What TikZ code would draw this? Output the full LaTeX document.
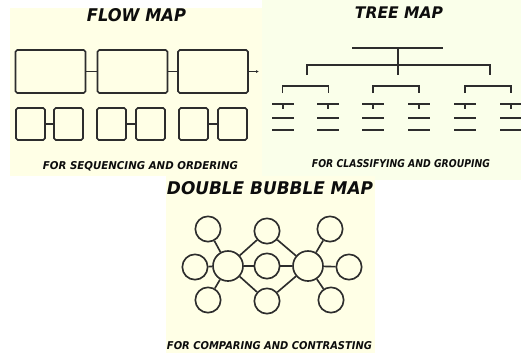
\documentclass[tikz,border=0pt]{standalone}
\usepackage{graphicx}
\usepackage{fontspec}
\setsansfont{DejaVu Sans}
\usepackage{tikz}
\usetikzlibrary{arrows.meta}
\definecolor{panelcream}{RGB}{255,255,230}
\definecolor{panelmint}{RGB}{250,255,234}
\definecolor{inkgray}{RGB}{45,45,45}
\newcommand{\capsfit}[3]{\resizebox{#1}{#2}{\sffamily\bfseries\itshape #3}}

\begin{document}
\begin{tikzpicture}[
  x=0.03cm, y=-0.03cm,
  ink/.style={draw=inkgray, line width=1.4pt},
  bigbox/.style={ink, rounded corners=1.5pt, minimum width=2.1cm, minimum height=1.29cm, inner sep=0},
  smallbox/.style={ink, rounded corners=1.5pt, minimum width=0.87cm, minimum height=0.96cm, inner sep=0},
  hub/.style={ink, circle, minimum size=0.9cm, inner sep=0},
  leaf/.style={ink, circle, minimum size=0.76cm, inner sep=0},
  hdr/.style={text=black!95, inner sep=0},
  twig/.style={draw=inkgray, line width=1.3pt},
]
\useasboundingbox (0,0) rectangle (521,353);
% ---- fondos
\fill[panelcream] (10,8) rectangle (262,176);
\fill[panelmint] (262,0) rectangle (521,180);
\fill[panelcream] (166,176) rectangle (375,353);

% ---- flow map
\node[hdr] (flowtitle) at (136.5,15.5) {\capsfit{2.97cm}{0.39cm}{FLOW MAP}};
\foreach \k/\xc in {1/50.5, 2/132.5, 3/213} {
  \node[bigbox] (step\k) at (\xc,71.5) {};
}
\draw[ink] (step1) -- (step2);
\draw[ink] (step2) -- (step3);
\coordinate (flowend) at (259,71.5);
\draw[ink, -{Latex[length=2.5pt,width=2.5pt]}] (step3) -- (flowend);
\foreach \k/\xa/\xb in {1/30.5/68.5, 2/111.5/150.5, 3/193.5/232.5} {
  \node[smallbox] (sub\k a) at (\xa,124) {};
  \node[smallbox] (sub\k b) at (\xb,124) {};
  \draw[ink] (sub\k a) -- (sub\k b);
}
\node[hdr] (flowcap) at (140.5,166.5) {\capsfit{5.85cm}{0.24cm}{FOR SEQUENCING AND ORDERING}};

% ---- tree map
\node[hdr] (treetitle) at (399,12.5) {\capsfit{2.64cm}{0.35cm}{TREE MAP}};
\draw[twig] (352,48) -- (443,48);
\draw[twig] (398,48) -- (398,75);
\draw[twig] (307,75) -- (307,65) -- (490,65) -- (490,75);
\foreach \c in {305.5, 396, 488} {
  \draw[twig] (\c-23,93) -- (\c-23,86) -- (\c+23,86) -- (\c+23,93);
}
\foreach \x in {283, 328, 373, 419, 465, 511} {
  \draw[twig] (\x-11,104) -- (\x+11,104);
  \draw[twig] (\x,104) -- (\x,109);
  \draw[twig] (\x-11,118) -- (\x+11,118);
  \draw[twig] (\x-11,130) -- (\x+11,130);
}
\node[hdr] (treecap) at (401,164) {\capsfit{5.34cm}{0.24cm}{FOR CLASSIFYING AND GROUPING}};

% ---- double bubble map
\node[hdr] (bubbletitle) at (270,188.5) {\capsfit{6.18cm}{0.39cm}{DOUBLE BUBBLE MAP}};
\node[hub] (hubL) at (228,266) {};
\node[hub] (hubR) at (308,266) {};
\node[leaf] (shareT) at (267,231) {};
\node[leaf] (shareM) at (267,266) {};
\node[leaf] (shareB) at (267,301) {};
\node[leaf] (ownLT) at (208,229) {};
\node[leaf] (ownLL) at (195,267) {};
\node[leaf] (ownLB) at (208,300) {};
\node[leaf] (ownRT) at (330,229) {};
\node[leaf] (ownRR) at (349,267) {};
\node[leaf] (ownRB) at (331,300) {};
\foreach \s in {shareT, shareM, shareB} {
  \draw[ink] (hubL) -- (\s);
  \draw[ink] (hubR) -- (\s);
}
\foreach \o in {LT, LL, LB} {
  \draw[ink] (hubL) -- (own\o);
}
\foreach \o in {RT, RR, RB} {
  \draw[ink] (hubR) -- (own\o);
}
\node[hdr] (bubblecap) at (269.5,346) {\capsfit{6.15cm}{0.24cm}{FOR COMPARING AND CONTRASTING}};
\end{tikzpicture}
\end{document}
